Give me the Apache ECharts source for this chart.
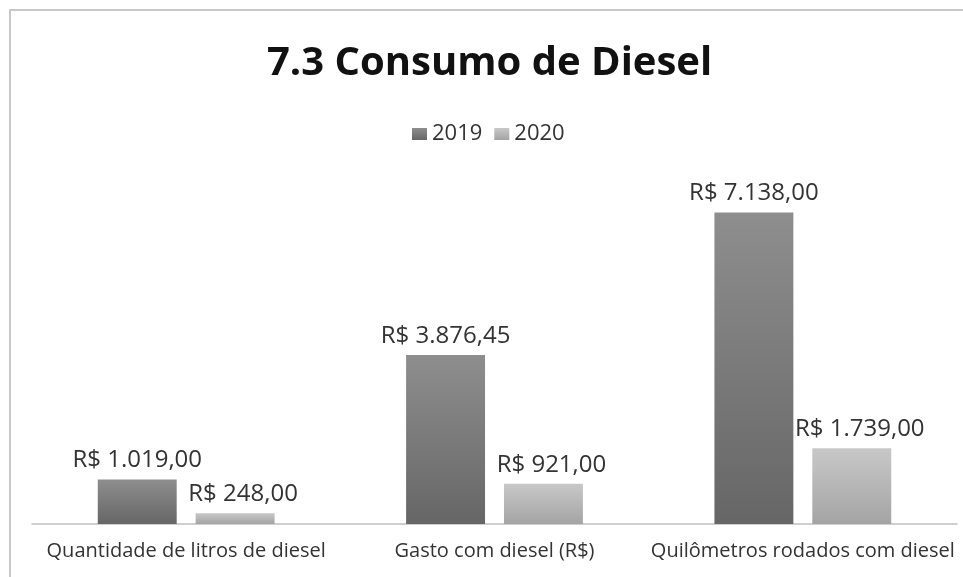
<!DOCTYPE html>
<html>
<head>
<meta charset="utf-8">
<script src="https://cdn.jsdelivr.net/npm/echarts@6/dist/echarts.min.js"></script>
<style>
  html, body { margin: 0; padding: 0; background: #fff; }
  #chart { width: 963px; height: 577px; }
</style>
</head>
<body>
<div id="chart"></div>
<script>
// dados do gráfico
const categorias = ['Quantidade de litros de diesel', 'Gasto com diesel (R$)', 'Quilômetros rodados com diesel'];
const anos = ['2019', '2020'];
const valores2019 = [1019.00, 3876.45, 7138.00];
const valores2020 = [248.00, 921.00, 1739.00];

// formata no padrão R$ 1.234,56
function formatBRL(v) {
  const parts = v.toFixed(2).split('.');
  const inteiro = parts[0].replace(/\B(?=(\d{3})+(?!\d))/g, '.');
  return 'R$ ' + inteiro + ',' + parts[1];
}

const chart = echarts.init(document.getElementById('chart'));
const fonte = "'Open Sans', 'Noto Sans', sans-serif";

const option = {
  backgroundColor: '#fff',
  textStyle: { fontFamily: fonte },
  animation: false,
  graphic: [
    {
      type: 'rect',
      shape: { x: 10, y: 10, width: 1000, height: 600 },
      style: { fill: 'none', stroke: '#c8c8c8', lineWidth: 2 },
      silent: true
    }
  ],
  title: {
    text: '7.3 Consumo de Diesel',
    left: 262,
    top: 39,
    textStyle: {
      fontFamily: fonte,
      fontSize: 40,
      fontWeight: 'bold',
      color: '#111'
    }
  },
  legend: {
    data: anos,
    left: 407,
    top: 118,
    itemWidth: 15,
    itemHeight: 12,
    itemGap: 12,
    icon: 'rect',
    textStyle: { fontSize: 22, color: '#333' }
  },
  grid: {
    left: 32,
    right: 6,
    top: 175,
    bottom: 53
  },
  xAxis: {
    type: 'category',
    data: categorias,
    axisTick: { show: false },
    axisLine: { lineStyle: { color: '#c0c0c0', width: 1.5 } },
    axisLabel: {
      color: '#333',
      fontSize: 20,
      margin: 17,
      interval: 0
    }
  },
  yAxis: {
    type: 'value',
    min: 0,
    max: 8000,
    show: false,
    splitLine: { show: false }
  },
  series: [
    {
      name: '2019',
      type: 'bar',
      data: valores2019,
      barWidth: '25.6%',
      barGap: '24%',
      itemStyle: {
        color: new echarts.graphic.LinearGradient(0, 0, 0, 1, [
          { offset: 0, color: '#8e8e8e' },
          { offset: 1, color: '#666666' }
        ])
      },
      label: {
        show: true,
        position: 'top',
        distance: 7,
        fontSize: 24,
        color: '#333',
        formatter: p => formatBRL(p.value)
      }
    },
    {
      name: '2020',
      type: 'bar',
      data: valores2020,
      barWidth: '25.6%',
      itemStyle: {
        color: new echarts.graphic.LinearGradient(0, 0, 0, 1, [
          { offset: 0, color: '#c8c8c8' },
          { offset: 1, color: '#a4a4a4' }
        ])
      },
      label: {
        show: true,
        position: 'top',
        distance: 7,
        offset: [8, 0],
        fontSize: 24,
        color: '#333',
        formatter: p => formatBRL(p.value)
      }
    }
  ]
};

chart.setOption(option);
</script>
</body>
</html>
